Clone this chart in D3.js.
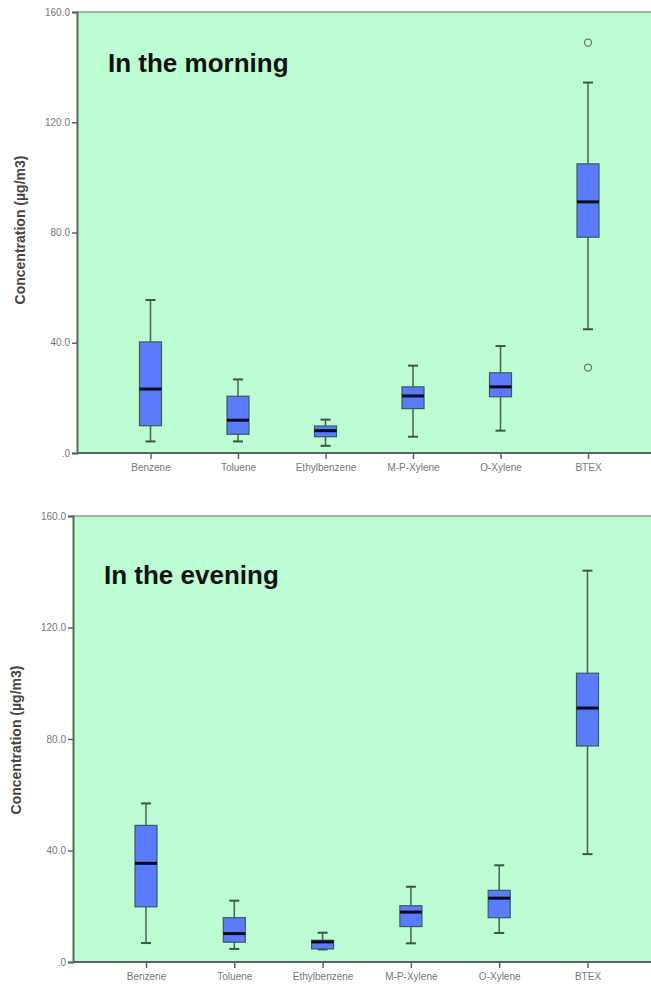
<!DOCTYPE html>
<html>
<head>
<meta charset="utf-8">
<script src="https://cdn.jsdelivr.net/npm/d3@7"></script>
<style>
  body { margin: 0; background: #fff; }
  svg { display: block; font-family: Arial, "Liberation Sans", sans-serif; }
</style>
</head>
<body>
<svg id="chart" width="651" height="990"></svg>
<script>
const categories = ["Benzene", "Toluene", "Ethylbenzene", "M-P-Xylene", "O-Xylene", "BTEX"];
const yTicks = [0, 40, 80, 120, 160];

// [lower whisker, Q1, median, Q3, upper whisker]
const morningStats = [
  [4.2, 9.9, 23.2, 40.3, 55.5],
  [4.2, 6.8, 11.9, 20.6, 26.7],
  [2.6, 5.9, 8.1, 9.8, 12.1],
  [5.9, 16.1, 20.7, 24.0, 31.7],
  [8.1, 20.4, 24.0, 29.1, 38.8],
  [44.9, 78.3, 91.1, 104.9, 134.4]
];
const morningOutliers = [["BTEX", 148.9], ["BTEX", 31.0]];

const eveningStats = [
  [6.8, 19.8, 35.4, 49.0, 56.9],
  [4.7, 7.1, 10.2, 15.9, 22.0],
  [4.5, 4.7, 7.2, 7.8, 10.5],
  [6.7, 12.7, 17.9, 20.2, 27.0],
  [10.4, 15.9, 22.9, 25.7, 34.7],
  [38.7, 77.5, 91.1, 103.6, 140.4]
];
const eveningOutliers = [];

const svg = d3.select("#chart");

function renderPanel(g, opt) {
  const y = d3.scaleLinear().domain([0, 160]).range([opt.bottom, opt.top]);
  const x = d3.scalePoint().domain(categories)
    .range([opt.left + opt.firstOffset, opt.left + opt.firstOffset + opt.step * 5]);

  g.append("rect")
    .attr("x", opt.left).attr("y", opt.top)
    .attr("width", 700 - opt.left).attr("height", opt.bottom - opt.top)
    .attr("fill", "#bcfdd3");
  g.append("line")
    .attr("x1", opt.left).attr("x2", 700)
    .attr("y1", opt.top).attr("y2", opt.top)
    .attr("stroke", "#8a9a90").attr("stroke-width", 1.5);

  g.append("text")
    .attr("x", opt.left + 31).attr("y", opt.titleY)
    .attr("font-size", 26).attr("font-weight", "bold").attr("fill", "#111")
    .text(opt.title);

  const data = categories.map((c, i) => ({ cat: c, s: opt.stats[i] }));
  const bw = 22;

  const box = g.selectAll(".box").data(data).enter().append("g").attr("class", "box");
  // whisker stems
  box.append("line")
    .attr("x1", d => x(d.cat)).attr("x2", d => x(d.cat))
    .attr("y1", d => y(d.s[0])).attr("y2", d => y(d.s[4]))
    .attr("stroke", "#4d6b5c").attr("stroke-width", 1.6);
  box.selectAll(".cap").data(d => [[d.cat, d.s[0]], [d.cat, d.s[4]]]).enter().append("line")
    .attr("x1", d => x(d[0]) - 5).attr("x2", d => x(d[0]) + 5)
    .attr("y1", d => y(d[1])).attr("y2", d => y(d[1]))
    .attr("stroke", "#3d5449").attr("stroke-width", 2);
  box.append("rect")
    .attr("x", d => x(d.cat) - bw / 2).attr("width", bw)
    .attr("y", d => y(d.s[3])).attr("height", d => y(d.s[1]) - y(d.s[3]))
    .attr("fill", "#5a7cfc").attr("stroke", "#3f5a58").attr("stroke-width", 1.2);
  box.append("line")
    .attr("x1", d => x(d.cat) - bw / 2).attr("x2", d => x(d.cat) + bw / 2)
    .attr("y1", d => y(d.s[2])).attr("y2", d => y(d.s[2]))
    .attr("stroke", "#0a0a1a").attr("stroke-width", 3);

  g.selectAll(".outlier").data(opt.outliers).enter().append("circle")
    .attr("cx", d => x(d[0])).attr("cy", d => y(d[1])).attr("r", 3.5)
    .attr("fill", "none").attr("stroke", "#6b7a72").attr("stroke-width", 1.3);

  // y axis
  const ya = g.append("g").attr("transform", `translate(${opt.left},0)`)
    .call(d3.axisLeft(y).tickValues(yTicks).tickSize(5).tickPadding(2)
      .tickFormat(d => d === 0 ? ".0" : d3.format(".1f")(d)));
  ya.select(".domain").attr("stroke", "#5c6660").attr("stroke-width", 2);
  ya.selectAll(".tick line").attr("stroke", "#5c6660").attr("stroke-width", 1.5);
  ya.selectAll(".tick text").attr("fill", "#777").attr("font-size", 10)
    .attr("font-family", "Arial, 'Liberation Sans', sans-serif");

  // x axis
  const xa = g.append("g").attr("transform", `translate(0,${opt.bottom})`)
    .call(d3.axisBottom(x).tickSize(6).tickPadding(5).tickSizeOuter(0));
  xa.select(".domain").attr("d", `M${opt.left},0H700`)
    .attr("stroke", "#5c6660").attr("stroke-width", 2);
  xa.selectAll(".tick line").attr("stroke", "#5c6660").attr("stroke-width", 1.5);
  xa.selectAll(".tick text").attr("fill", "#777").attr("font-size", 10)
    .attr("font-family", "Arial, 'Liberation Sans', sans-serif");

  g.append("text")
    .attr("transform", `translate(${opt.labelX},${opt.labelY}) rotate(-90)`)
    .attr("text-anchor", "middle")
    .attr("font-size", 14).attr("font-weight", "bold").attr("fill", "#444")
    .text("Concentration (\u00b5g/m3)");
}

renderPanel(svg.append("g"), {
  top: 12, bottom: 453, left: 77, firstOffset: 73.5, step: 87.5,
  stats: morningStats, outliers: morningOutliers,
  title: "In the morning", titleY: 72, labelX: 25, labelY: 230
});
renderPanel(svg.append("g"), {
  top: 516, bottom: 962, left: 73, firstOffset: 73, step: 88.3,
  stats: eveningStats, outliers: eveningOutliers,
  title: "In the evening", titleY: 584, labelX: 21, labelY: 740
});
</script>
</body>
</html>
